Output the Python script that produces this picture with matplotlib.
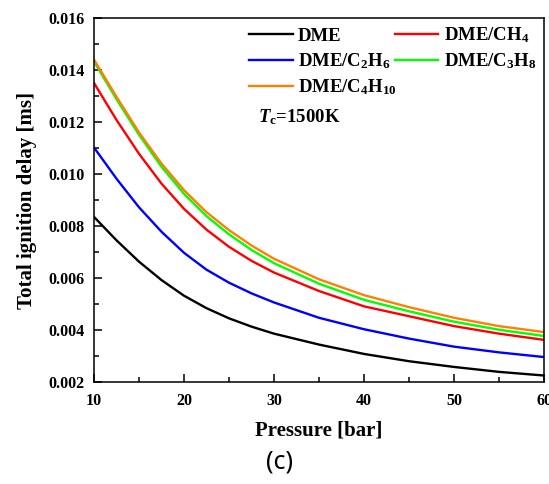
import numpy as np
import matplotlib
matplotlib.use('Agg')
from matplotlib import pyplot as plt
from matplotlib.ticker import MultipleLocator

plt.rcParams['font.family'] = 'Liberation Serif'
plt.rcParams['font.weight'] = 'bold'
plt.rcParams['mathtext.fontset'] = 'custom'
plt.rcParams['mathtext.rm'] = 'Liberation Serif:bold'
plt.rcParams['mathtext.bf'] = 'Liberation Serif:bold'
plt.rcParams['mathtext.it'] = 'Liberation Serif:italic:bold'

# pressure [bar]
P = [10, 12.5, 15, 17.5, 20, 22.5, 25, 27.5, 30, 35, 40, 45, 50, 55, 60]

# total ignition delay [ms]
dme = [0.00835, 0.00745, 0.00663, 0.00592, 0.00532, 0.00484, 0.00445, 0.00413,
       0.00386, 0.00344, 0.00308, 0.00280, 0.00258, 0.00239, 0.00225]
dme_ch4 = [0.01350, 0.01208, 0.01078, 0.00963, 0.00866, 0.00786, 0.00720, 0.00666,
           0.00621, 0.00550, 0.00491, 0.00453, 0.00415, 0.00386, 0.00362]
dme_c2h6 = [0.01102, 0.00982, 0.00872, 0.00778, 0.00697, 0.00632, 0.00582, 0.00541,
            0.00506, 0.00447, 0.00403, 0.00367, 0.00336, 0.00314, 0.00296]
dme_c3h8 = [0.01433, 0.01288, 0.01151, 0.01028, 0.00924, 0.00838, 0.00768, 0.00708,
            0.00657, 0.00578, 0.00516, 0.00472, 0.00432, 0.00401, 0.00377]
dme_c4h10 = [0.01440, 0.01297, 0.01160, 0.01040, 0.00938, 0.00853, 0.00784, 0.00725,
             0.00674, 0.00595, 0.00534, 0.00488, 0.00447, 0.00415, 0.00392]

labels = ['DME', 'DME/CH$_4$', 'DME/C$_2$H$_6$', 'DME/C$_3$H$_8$', 'DME/C$_4$H$_{10}$']
colors = ['#000000', '#ff0000', '#0000ff', '#00ff00', '#ff8000']
series = [dme, dme_ch4, dme_c2h6, dme_c3h8, dme_c4h10]

fig = plt.figure(figsize=(5.49, 4.84), dpi=100)
ax = fig.add_axes([0.1712, 0.2107, 0.8198, 0.7521])

handles = []
for y, c, lab in zip(series, colors, labels):
    h, = ax.plot(P, y, c=c, lw=1.7, label=lab, solid_joinstyle='round')
    handles.append(h)

ax.set_xlim(10, 60)
ax.set_ylim(0.002, 0.016)
ax.xaxis.set_major_locator(MultipleLocator(10))
ax.xaxis.set_minor_locator(MultipleLocator(5))
ax.yaxis.set_major_locator(MultipleLocator(0.002))
ax.yaxis.set_minor_locator(MultipleLocator(0.001))
ax.yaxis.set_major_formatter(plt.FormatStrFormatter('%.3f'))
ax.tick_params(which='both', direction='in', top=False, right=False, labelsize=11.5, width=1.1)
ax.tick_params(axis='x', pad=8)
ax.tick_params(axis='y', pad=7)
ax.tick_params(which='major', length=6)
ax.tick_params(which='minor', length=3.5)
for s in ax.spines.values():
    s.set_linewidth(1.1)

ax.set_xlabel('Pressure [bar]', fontsize=15, fontweight='bold', labelpad=8)
ax.set_ylabel('Total ignition delay [ms]', fontsize=15, fontweight='bold', labelpad=8)

# row-wise legend order like the original (matplotlib fills columns first)
order = [0, 2, 4, 1, 3]
ax.legend([handles[i] for i in order], [labels[i] for i in order],
          ncol=2, loc='upper right', frameon=False, fontsize=13.5, handlelength=2.3,
          handletextpad=0.3, columnspacing=-0.1, labelspacing=0.35,
          borderaxespad=0.0, bbox_to_anchor=(1.0, 1.0))
ax.text(0.364, 0.728, '$T$$_\\mathrm{c}$=1500K', transform=ax.transAxes, fontsize=13.5,
        va='center')

fig.text(0.51, 0.045, '(c)', fontsize=18, family='Noto Sans', ha='center', va='center')

plt.savefig('out.png', dpi=100)
